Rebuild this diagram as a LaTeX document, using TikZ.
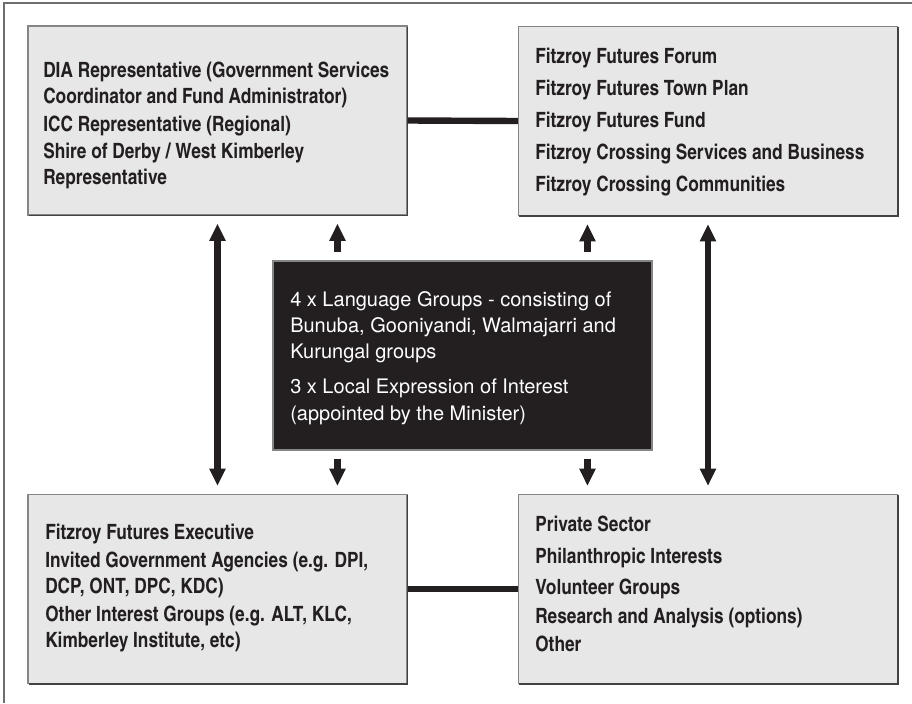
\documentclass[tikz,border=0pt]{standalone}
\usepackage{fontspec}
\setmainfont{TeX Gyre Heros}
\newfontfamily\cnfont{texgyreheroscn}[Extension=.otf, UprightFont=*-regular, BoldFont=*-bold]
\usetikzlibrary{arrows.meta}
\definecolor{boxfill}{HTML}{E6E7E6}
\definecolor{ink}{HTML}{231F20}
\definecolor{edge}{HTML}{858585}
\definecolor{framecol}{HTML}{6E6E6E}
\begin{document}
\begin{tikzpicture}[x=0.75pt,y=-0.75pt,
  gbox/.style={rectangle, draw=edge, fill=boxfill, line width=0.8pt, minimum width=284.25pt, minimum height=141.75pt, inner sep=0pt},
  kbox/.style={rectangle, draw=edge, fill=ink, line width=0.8pt, minimum width=284.25pt, minimum height=141.75pt, inner sep=0pt},
  shadeline/.style={draw=ink!85, line width=1.4pt},
  btxt/.style={anchor=base west, inner sep=0pt, text=ink, font=\cnfont\bfseries\fontsize{15.8}{18}\selectfont},
  wtxt/.style={anchor=base west, inner sep=0pt, text=white, font=\fontsize{15}{17}\selectfont},
  conn/.style={draw=ink, line width=4.8pt},
  dblarrow/.style={draw=ink, line width=4.8pt, {Triangle[width=11.5pt,length=13pt]}-{Triangle[width=11.5pt,length=13pt]}, shorten <=6pt, shorten >=6pt},
  arrowup/.style={draw=ink, line width=4.8pt, -{Triangle[width=11.5pt,length=13pt]}, shorten >=6pt},
  framelines/.style={draw=framecol, line width=1.3pt}
]
\useasboundingbox (0,0) rectangle (912,703);
\draw[framelines] (4,703) -- (4,3) -- (912,3);

% boxes
\node[gbox] (tl) at (217.5,120.5) {};
\node[gbox] (tr) at (708,121) {};
\node[gbox] (bl) at (217.5,589) {};
\node[gbox] (br) at (708,589) {};
\node[kbox] (blk) at (462.5,355.5) {};

\foreach \b in {tl,tr,bl,br}{
  \draw[shadeline] ([xshift=1pt]\b.south west) -- (\b.south east) -- ([yshift=-1pt]\b.north east);
}

% connectors
\draw[conn] (tl.east) -- (tr.west);
\draw[conn] (bl.east) -- (br.west);
\draw[dblarrow] (tl.south) -- (bl.north);
\draw[dblarrow] (tr.south) -- (br.north);

\path (blk.north west) ++(65,-8) coordinate (u1);
\path (blk.north west) ++(315,-8) coordinate (u2);
\path (blk.south west) ++(65,8) coordinate (d1);
\path (blk.south west) ++(315,8) coordinate (d2);
\draw[arrowup] (u1) -- (u1 |- tl.south);
\draw[arrowup] (u2) -- (u2 |- tr.south);
\draw[arrowup] (d1) -- (d1 |- bl.north);
\draw[arrowup] (d2) -- (d2 |- br.north);

% texts top-left
\node[btxt] (tl1) at (43,77) {DIA Representative (Government Services};
\node[btxt] (tl2) at (43,103) {Coordinator and Fund Administrator)};
\node[btxt] (tl3) at (43,131) {ICC Representative (Regional)};
\node[btxt] (tl4) at (43,158) {Shire of Derby / West Kimberley};
\node[btxt] (tl5) at (43,184) {Representative};

% texts top-right
\node[btxt] (tr1) at (535,63) {Fitzroy Futures Forum};
\node[btxt] (tr2) at (535,95.5) {Fitzroy Futures Town Plan};
\node[btxt] (tr3) at (535,127) {Fitzroy Futures Fund};
\node[btxt] (tr4) at (535,159) {Fitzroy Crossing Services and Business};
\node[btxt] (tr5) at (535,191) {Fitzroy Crossing Communities};

% texts centre
\node[wtxt] (c1) at (290,306) {4 x Language Groups - consisting of};
\node[wtxt] (c2) at (290,332) {Bunuba, Gooniyandi, Walmajarri and};
\node[wtxt] (c3) at (290,358) {Kurungal groups};
\node[wtxt] (c4) at (290,393) {3 x Local Expression of Interest};
\node[wtxt] (c5) at (290,420) {(appointed by the Minister)};

% texts bottom-left
\node[btxt] (bl1) at (45,539) {Fitzroy Futures Executive};
\node[btxt] (bl2) at (45,567) {Invited Government Agencies (e.g. DPI,};
\node[btxt] (bl3) at (45,593) {DCP, ONT, DPC, KDC)};
\node[btxt] (bl4) at (45,621) {Other Interest Groups (e.g. ALT, KLC,};
\node[btxt] (bl5) at (45,647) {Kimberley Institute, etc)};

% texts bottom-right
\node[btxt] (br1) at (535,531) {Private Sector};
\node[btxt] (br2) at (535,563) {Philanthropic Interests};
\node[btxt] (br3) at (535,594) {Volunteer Groups};
\node[btxt] (br4) at (535,623) {Research and Analysis (options)};
\node[btxt] (br5) at (535,651) {Other};
\end{tikzpicture}
\end{document}
